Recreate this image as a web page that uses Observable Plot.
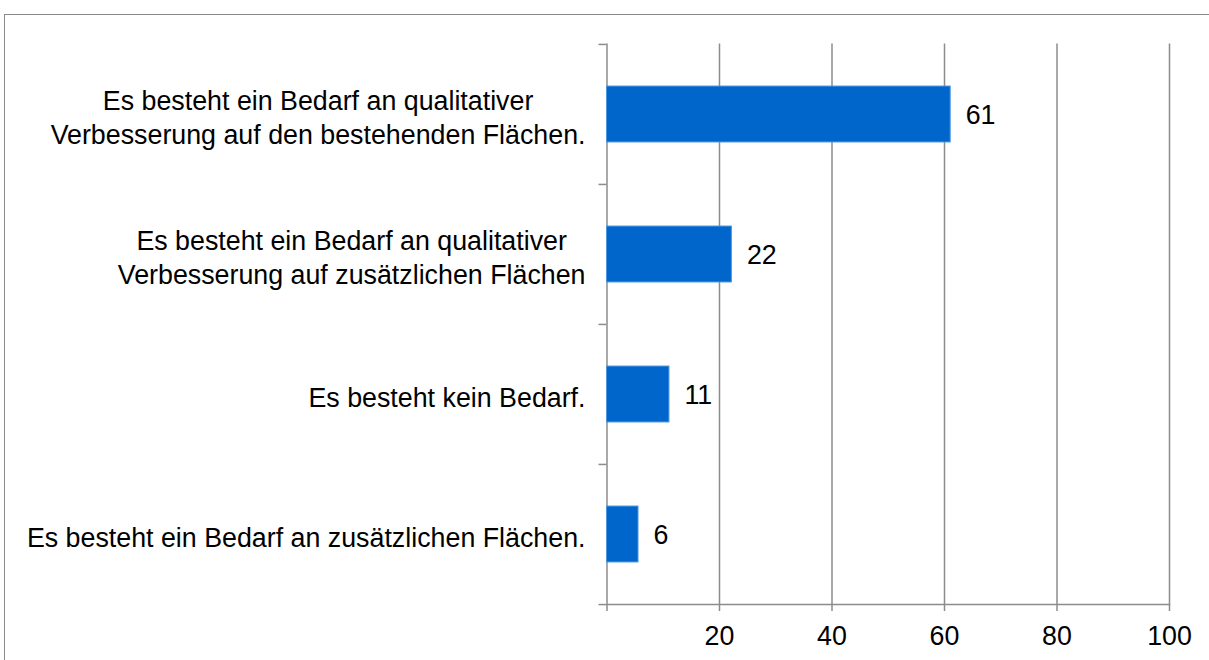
<!DOCTYPE html>
<html>
<head>
<meta charset="utf-8">
<script src="https://cdn.jsdelivr.net/npm/d3@7"></script>
<script src="https://cdn.jsdelivr.net/npm/@observablehq/plot@0.6"></script>
<style>
  html, body { margin: 0; padding: 0; background: #fff; overflow: hidden; }
  #frame { position: absolute; left: 4px; top: 14px; width: 1300px; height: 800px; border: 1.5px solid #8a8a8a; box-sizing: border-box; }
  #chart { position: absolute; left: 0; top: 0; }
</style>
</head>
<body>
<div id="frame"></div>
<div id="chart"></div>
<script>
const categories = [
  "Es besteht ein Bedarf an qualitativer\nVerbesserung auf den bestehenden Flächen.",
  "Es besteht ein Bedarf an qualitativer\nVerbesserung auf zusätzlichen Flächen",
  "Es besteht kein Bedarf.",
  "Es besteht ein Bedarf an zusätzlichen Flächen."
];
const values = [61.1, 22.2, 11.1, 5.6];
const xTicks = [0, 20, 40, 60, 80, 100];
const gridTicks = [20, 40, 60, 80, 100];

const data = categories.map((c, i) => ({category: c, value: values[i]}));

const W = 1209, H = 660;
const mLeft = 606.5, mRight = 40, mTop = 43.5, mBottom = 56;
const step = (H - mTop - mBottom) / categories.length;
const pxPerUnit = (W - mLeft - mRight) / 100;
const fontSize = 26.8;
const font = `${fontSize}px "Liberation Sans", Arial, sans-serif`;
const gray = "#8c8c8c";

const ctx = document.createElement("canvas").getContext("2d");
ctx.font = font;
const lineWidth = s => Math.max(...s.split("\n").map(l => ctx.measureText(l).width));

const labelMarks = categories.map(c => Plot.text([c], {
  y: d => d, x: () => 0, text: d => d,
  textAnchor: "middle", lineHeight: 1.25,
  dx: -21.5 - lineWidth(c) / 2, dy: 2,
  fill: "black"
}));

const boundaries = categories.map((c, i) => ({c, dy: -step / 2}));
boundaries.push({c: categories[categories.length - 1], dy: step / 2});

const chart = Plot.plot({
  width: W, height: H,
  marginLeft: mLeft, marginRight: mRight, marginTop: mTop, marginBottom: mBottom,
  style: {fontFamily: '"Liberation Sans", Arial, sans-serif', fontSize: fontSize + "px", background: "transparent", color: "black"},
  x: {domain: [0, 100], axis: null},
  y: {domain: categories, padding: 0, axis: null},
  marks: [
    Plot.gridX(gridTicks, {stroke: gray, strokeOpacity: 1, strokeWidth: 1.5}),
    Plot.frame({anchor: "bottom", stroke: gray, strokeWidth: 1.5}),
    Plot.ruleX([0], {stroke: gray, strokeWidth: 1.5}),
    Plot.ruleY(boundaries.filter(b => b.dy < 0), {y: "c", dy: -step / 2, x1: -8 / pxPerUnit, x2: 0, stroke: gray, strokeWidth: 1.5}),
    Plot.ruleY(boundaries.filter(b => b.dy > 0), {y: "c", dy: step / 2, x1: -8 / pxPerUnit, x2: 0, stroke: gray, strokeWidth: 1.5}),
    Plot.axisX(xTicks, {anchor: "bottom", label: null, tickSize: 7, tickPadding: 14, stroke: gray, strokeWidth: 1.5,
      tickFormat: d => d === 0 ? "" : String(d), fill: "black", fontSize: fontSize}),
    Plot.barX(data, {y: "category", x: "value", fill: "#0066cc", stroke: "#4a97e0", strokeWidth: 1,
      insetTop: step * 0.3, insetBottom: step * 0.3}),
    Plot.text(data, {y: "category", x: "value", text: d => String(Math.round(d.value)),
      textAnchor: "start", dx: 15, dy: 1, fill: "black"}),
    ...labelMarks
  ]
});
document.getElementById("chart").appendChild(chart);
</script>
</body>
</html>
